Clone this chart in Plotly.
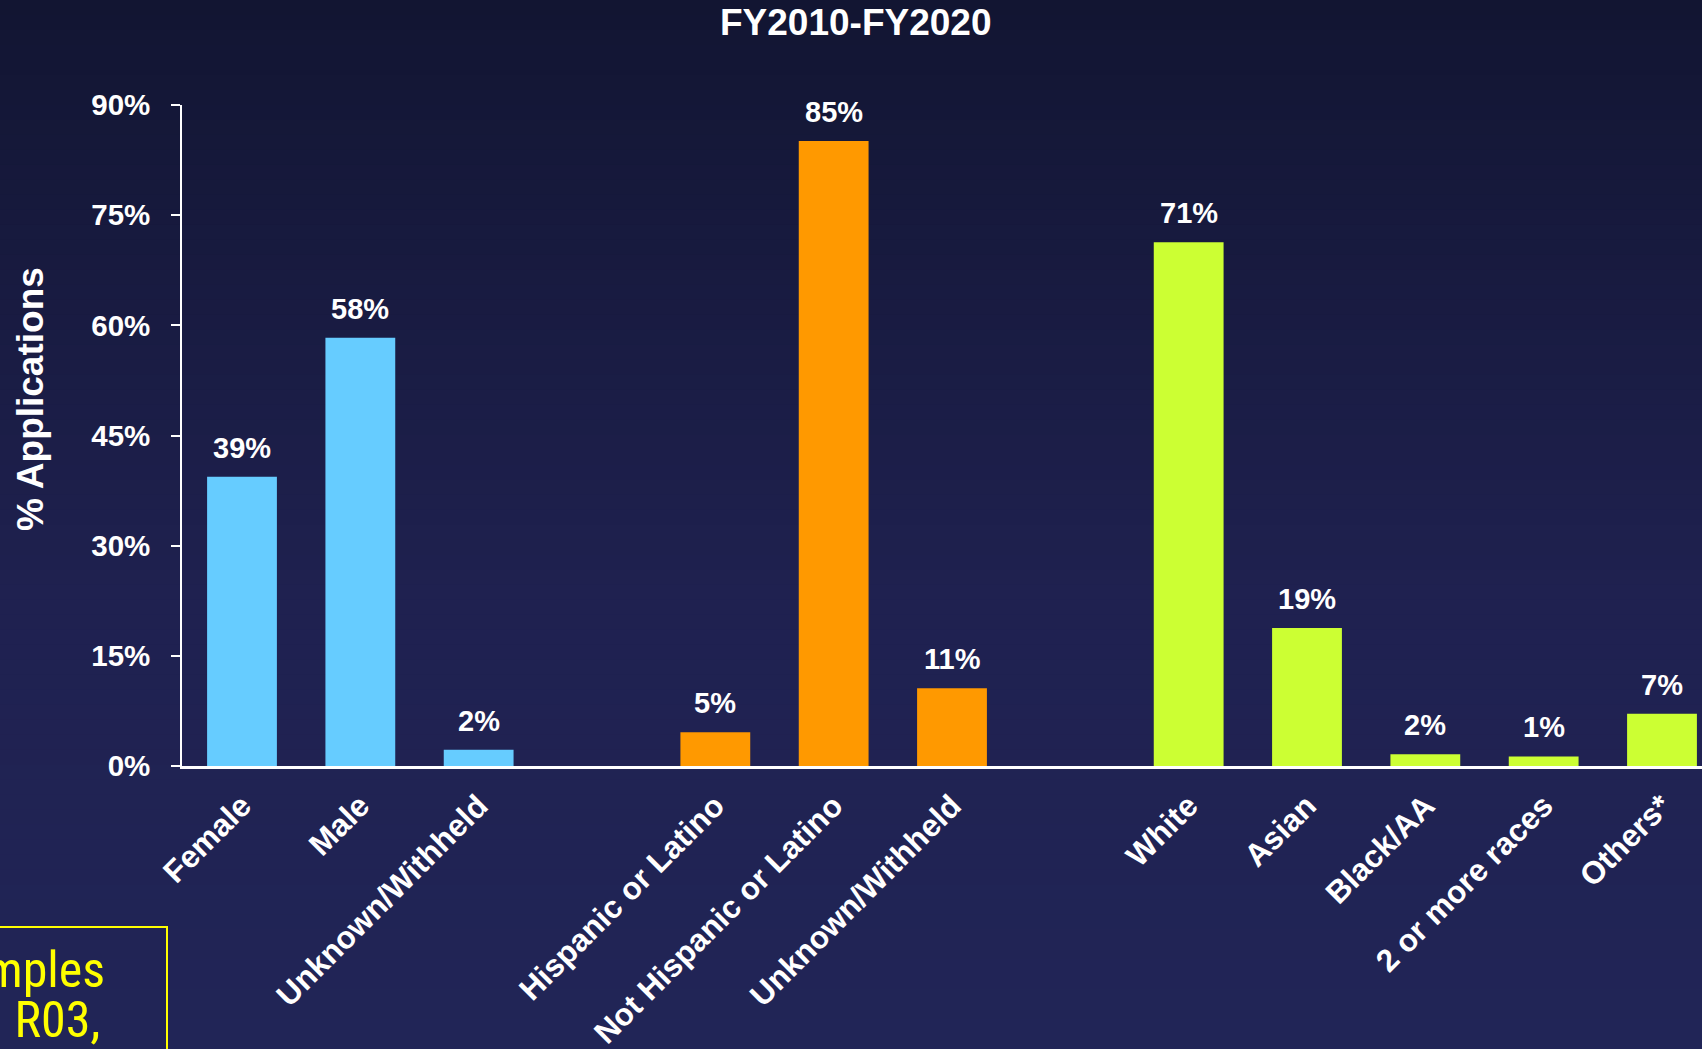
import plotly.graph_objects as go

# ---------------- data ----------------
gender_cats = ["Female", "Male", "Unknown/Withheld"]
gender_vals = [39.4, 58.3, 2.2]
eth_cats = ["Hispanic or Latino", "Not Hispanic or Latino", "Unknown/Withheld"]
eth_vals = [4.6, 85.1, 10.6]
race_cats = ["White", "Asian", "Black/AA", "2 or more races", "Others*"]
race_vals = [71.3, 18.8, 1.6, 1.3, 7.1]
y_ticks = [0, 15, 30, 45, 60, 75, 90]
title_text = "FY2010-FY2020"
y_title = "% Applications"
box_lines = ["mples", " R03,"]

# ---------------- styling ----------------
W, H = 1702, 1049
L, R, T, B = 182, 0, 105, 283
PW, PH = W - L - R, H - T - B
FONT = "Liberation Sans, Arial, sans-serif"
NARROW = "Liberation Sans Narrow, Arial Narrow, Roboto Condensed, Liberation Sans, sans-serif"
colors = ["#66CCFF", "#FF9900", "#CCFF33"]


def px2x(px):
    return (px - L) / PW


def px2y(py):
    return (H - B - py) / PH


groups = [(gender_cats, gender_vals), (eth_cats, eth_vals), (race_cats, race_vals)]

fig = go.Figure()
tickvals, ticktext = [], []
annotations = []
pos = 0
for (cats, vals), col in zip(groups, colors):
    xs = [pos + i for i in range(len(cats))]
    pos += len(cats) + 1
    fig.add_trace(go.Bar(x=xs, y=vals, marker=dict(color=col, line=dict(width=0)),
                         width=0.59, showlegend=False, hoverinfo="skip"))
    tickvals += xs
    ticktext += cats
    for x, v in zip(xs, vals):
        annotations.append(dict(x=x, y=v, xref="x", yref="y", text=f"{round(v)}%",
                                showarrow=False, yanchor="bottom", yshift=11,
                                font=dict(family=FONT, size=29, color="white", weight="bold")))

# title
annotations.append(dict(x=px2x(856), y=px2y(23), xref="paper", yref="paper", text=title_text,
                        showarrow=False, xanchor="center", yanchor="middle",
                        font=dict(family=FONT, size=37, color="white", weight="bold")))
# y title
annotations.append(dict(x=px2x(30), y=px2y(399), xref="paper", yref="paper", text=y_title,
                        showarrow=False, textangle=-90, xanchor="center", yanchor="middle",
                        font=dict(family=FONT, size=37, color="white", weight="bold")))
# partial yellow box text
annotations.append(dict(x=px2x(107), y=px2y(970), xref="paper", yref="paper", text=box_lines[0],
                        showarrow=False, xanchor="right", yanchor="middle",
                        font=dict(family=NARROW, size=50, color="#FFFF00")))
annotations.append(dict(x=px2x(102), y=px2y(1020), xref="paper", yref="paper", text=box_lines[1],
                        showarrow=False, xanchor="right", yanchor="middle",
                        font=dict(family=NARROW, size=50, color="#FFFF00")))

# background gradient bands
shapes = []
stops = [(0, (18, 21, 50)), (600, (31, 33, 80)), (H, (33, 37, 87))]


def col_at(py):
    for (y0, c0), (y1, c1) in zip(stops[:-1], stops[1:]):
        if y0 <= py <= y1:
            t = (py - y0) / (y1 - y0)
            return tuple(round(a + (b - a) * t) for a, b in zip(c0, c1))
    return stops[-1][1]


n = 70
for i in range(n):
    y0 = H * i / n
    y1 = H * (i + 1) / n + 1
    c = col_at((y0 + y1) / 2)
    shapes.append(dict(type="rect", xref="paper", yref="paper", layer="below",
                       x0=px2x(-5), x1=px2x(W + 5), y0=px2y(y1), y1=px2y(y0),
                       line=dict(width=0), fillcolor=f"rgb{c}"))
# yellow box border
shapes.append(dict(type="rect", xref="paper", yref="paper", layer="above",
                   x0=px2x(-20), x1=px2x(167), y0=px2y(H + 20), y1=px2y(927),
                   line=dict(color="#FFFF00", width=2), fillcolor="rgba(0,0,0,0)"))

fig.update_layout(
    width=W, height=H,
    margin=dict(l=L, r=R, t=T, b=B, pad=0),
    paper_bgcolor="rgb(26,29,68)",
    plot_bgcolor="rgba(0,0,0,0)",
    bargap=0.4,
    annotations=annotations,
    shapes=shapes,
    xaxis=dict(range=[-0.507, 12.338], tickvals=tickvals, ticktext=ticktext, tickangle=-45,
               showline=True, linecolor="white", linewidth=2.5, showgrid=False, zeroline=False,
               ticks="", ticklabelstandoff=6,
               tickfont=dict(family=FONT, size=31.5, color="white", weight="bold")),
    yaxis=dict(range=[0, 90], tickvals=y_ticks, ticktext=[f"{v}%" for v in y_ticks],
               showline=True, linecolor="white", linewidth=1.5, showgrid=False, zeroline=False,
               ticks="outside", ticklen=9, tickwidth=1.5, tickcolor="white",
               ticklabelstandoff=15,
               tickfont=dict(family=FONT, size=29.5, color="white", weight="bold")),
)

fig.write_html("out.html", config={"displayModeBar": False},
               post_script="document.body.style.margin='0';document.body.style.overflow='hidden';")
